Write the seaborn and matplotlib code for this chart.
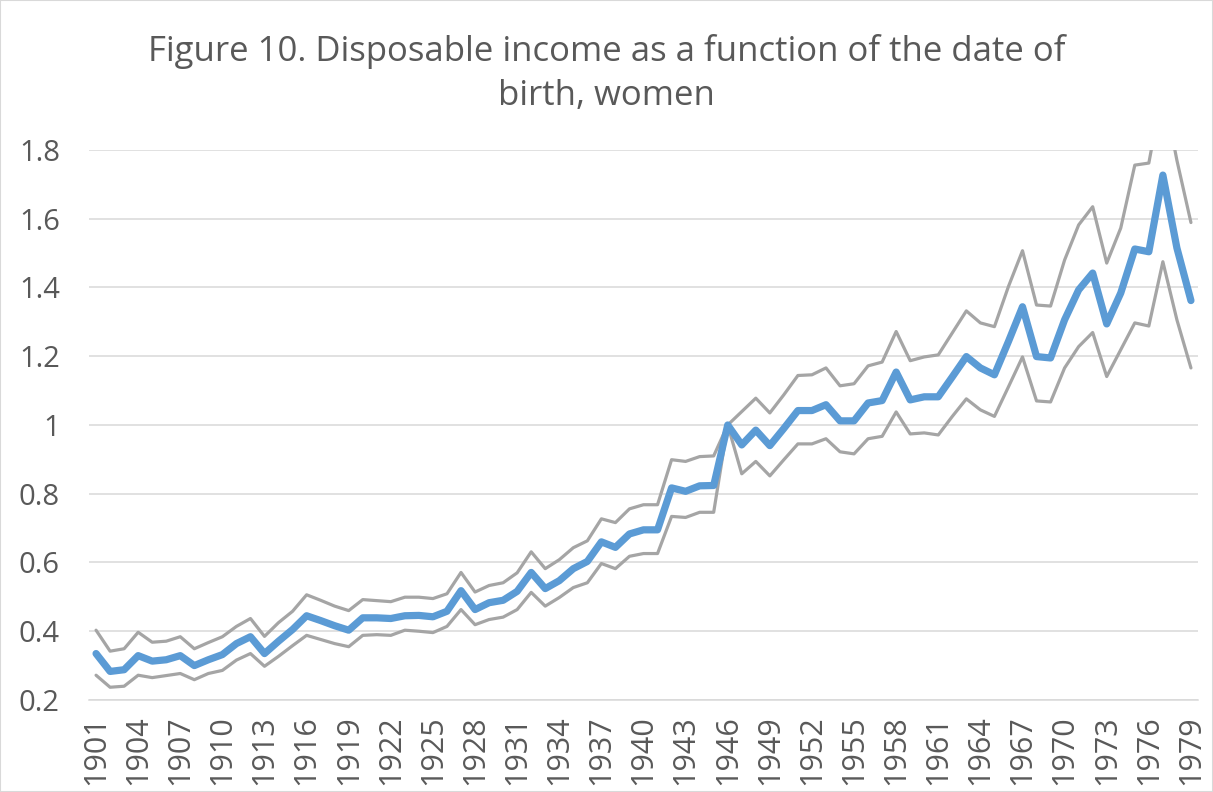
import matplotlib
matplotlib.use("Agg")
import matplotlib.pyplot as plt
import matplotlib.ticker as mticker
from matplotlib.patches import Rectangle
import pandas as pd
import seaborn as sns

# ============================================
# DATA
# ============================================

years = list(range(1901, 1980))

central = [0.335, 0.283, 0.288, 0.329, 0.313, 0.317, 0.329, 0.300, 0.317, 0.332,
           0.364, 0.384, 0.335, 0.371, 0.405, 0.445, 0.431, 0.416, 0.403, 0.439,
           0.439, 0.437, 0.445, 0.446, 0.442, 0.458, 0.518, 0.463, 0.483, 0.490,
           0.516, 0.571, 0.524, 0.547, 0.582, 0.603, 0.660, 0.644, 0.683, 0.695,
           0.695, 0.817, 0.807, 0.823, 0.824, 1.000, 0.942, 0.985, 0.940, 0.990,
           1.042, 1.042, 1.059, 1.012, 1.012, 1.064, 1.071, 1.154, 1.073, 1.082,
           1.082, 1.140, 1.199, 1.166, 1.146, 1.243, 1.344, 1.199, 1.195, 1.306,
           1.393, 1.442, 1.294, 1.384, 1.512, 1.504, 1.727, 1.515, 1.362]

upper = [0.403, 0.342, 0.349, 0.397, 0.368, 0.371, 0.384, 0.349, 0.367, 0.384,
         0.414, 0.437, 0.385, 0.425, 0.458, 0.506, 0.490, 0.473, 0.460, 0.492,
         0.489, 0.486, 0.499, 0.499, 0.495, 0.509, 0.571, 0.514, 0.533, 0.541,
         0.570, 0.631, 0.582, 0.608, 0.643, 0.663, 0.727, 0.716, 0.756, 0.768,
         0.768, 0.899, 0.894, 0.908, 0.910, 1.000, 1.039, 1.078, 1.035, 1.088,
         1.144, 1.146, 1.166, 1.114, 1.120, 1.172, 1.183, 1.272, 1.187, 1.198,
         1.204, 1.268, 1.332, 1.297, 1.286, 1.403, 1.507, 1.349, 1.346, 1.480,
         1.582, 1.635, 1.471, 1.573, 1.756, 1.762, 1.980, 1.770, 1.589]

lower = [0.272, 0.237, 0.240, 0.272, 0.265, 0.271, 0.277, 0.259, 0.277, 0.286,
         0.316, 0.335, 0.298, 0.327, 0.358, 0.388, 0.376, 0.364, 0.355, 0.388,
         0.390, 0.388, 0.403, 0.400, 0.396, 0.414, 0.463, 0.419, 0.434, 0.441,
         0.463, 0.513, 0.473, 0.498, 0.527, 0.541, 0.597, 0.582, 0.618, 0.626,
         0.626, 0.734, 0.731, 0.746, 0.746, 1.000, 0.858, 0.894, 0.852, 0.899,
         0.945, 0.945, 0.960, 0.922, 0.916, 0.960, 0.967, 1.038, 0.974, 0.977,
         0.971, 1.025, 1.076, 1.044, 1.025, 1.111, 1.198, 1.070, 1.067, 1.166,
         1.228, 1.269, 1.141, 1.219, 1.297, 1.288, 1.475, 1.306, 1.166]

y_ticks = [0.2, 0.4, 0.6, 0.8, 1.0, 1.2, 1.4, 1.6, 1.8]

title = "Figure 10. Disposable income as a function of the date of\nbirth, women"

df = pd.DataFrame({"year": years, "central": central, "upper": upper, "lower": lower})

# ============================================
# STYLE
# ============================================

sns.set_theme(style="white")
plt.rcParams["font.family"] = ["Open Sans", "DejaVu Sans"]

text_color = "#595959"
grid_color = "#D9D9D9"
blue = "#5B9BD5"
gray = "#A5A5A5"

fig = plt.figure(figsize=(12.13, 7.92), dpi=100)
ax = fig.add_axes([0.0734, 0.1162, 0.9142, 0.6944])

# ============================================
# LINES
# ============================================

sns.lineplot(data=df, x="year", y="lower", ax=ax, color=gray, linewidth=2.3, zorder=2)
sns.lineplot(data=df, x="year", y="upper", ax=ax, color=gray, linewidth=2.3, zorder=2)
sns.lineplot(data=df, x="year", y="central", ax=ax, color=blue, linewidth=5.2, zorder=3)

# ============================================
# AXES
# ============================================

ax.set_xlim(1900.5, 1979.5)
ax.set_ylim(0.2, 1.8)

ax.set_yticks(y_ticks)
ax.yaxis.set_major_formatter(mticker.FuncFormatter(lambda v, p: f"{v:g}"))
ax.set_xticks(years[::3])
ax.set_xticklabels([str(y) for y in years[::3]], rotation=90)

ax.tick_params(axis="y", length=0, pad=21, labelsize=21, labelcolor=text_color)
ax.tick_params(axis="x", length=0, pad=11, labelsize=22, labelcolor=text_color)

ax.grid(axis="y", color=grid_color, linewidth=1.1, zorder=0)
ax.set_axisbelow(True)

for side in ["top", "right", "left"]:
    ax.spines[side].set_visible(False)
ax.spines["bottom"].set_color(grid_color)
ax.spines["bottom"].set_linewidth(1.1)

ax.set_xlabel("")
ax.set_ylabel("")

fig.text(0.5, 0.907, title, ha="center", va="center", fontsize=25,
         color=text_color, linespacing=1.4)

fig.patches.append(Rectangle((0, 0), 1, 1, transform=fig.transFigure,
                             fill=False, edgecolor=grid_color, linewidth=1.5))

plt.savefig("out.png", dpi=100)
